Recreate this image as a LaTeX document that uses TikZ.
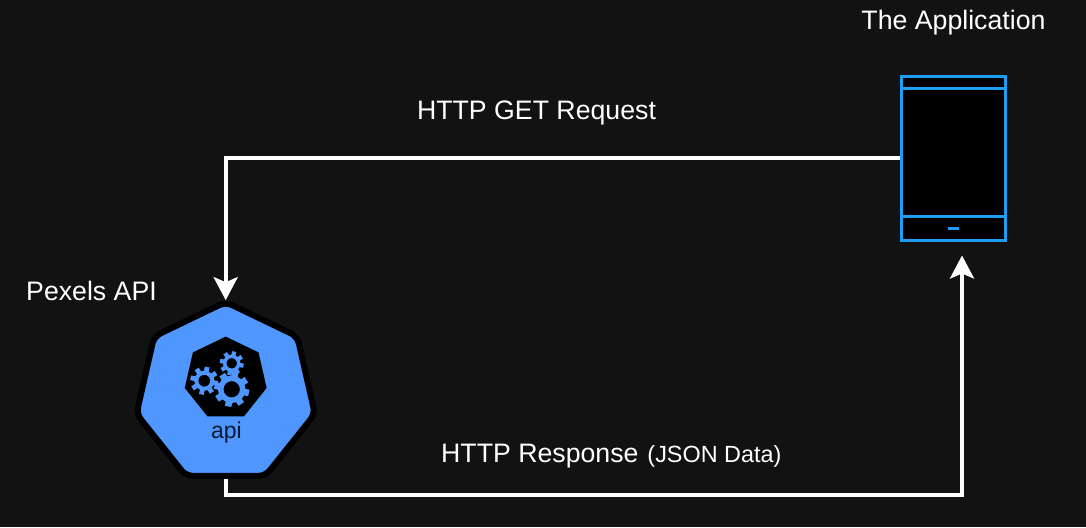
\documentclass[tikz,border=0pt]{standalone}
\usepackage{fontspec}
\setmainfont{Liberation Sans}
\usetikzlibrary{shapes.geometric,arrows.meta}

\definecolor{bgdark}{HTML}{121212}
\definecolor{apiblue}{HTML}{4F97FF}
\definecolor{phoneblue}{HTML}{1E9DF5}
\definecolor{apitext}{HTML}{0A1A33}

\tikzset{
	flow/.style={draw=white, line width=4pt},
	flowtip/.style={-{Stealth[length=23pt,width=24pt,inset=5pt]}, shorten >=-1.5pt},
	caption/.style={text=white, font=\fontsize{26.7}{30}\selectfont, inner sep=0pt},
	heptagon/.style={regular polygon, regular polygon sides=7, inner sep=0pt},
	phonebar/.style={draw=phoneblue, line width=3.2pt},
}

% gear: centre, ring radius, tooth tip radius
\newcommand{\apigear}[3]{
	\draw[apiblue, line width=0.5*#2pt] (#1) circle (#2);
	\foreach \toothangle in {0,45,...,315}
		\draw[apiblue, line width=0.6*#2pt] (#1) ++(\toothangle+12:#2) -- ++(\toothangle+12:#3-#2);
}

\begin{document}
\begin{tikzpicture}[x=1pt, y=-1pt]
	\fill[bgdark] (0,0) rectangle (1086,527);
	\useasboundingbox (0,0) rectangle (1086,527);

	% Pexels API
	\node[heptagon, fill=apiblue, draw=black, line width=6pt, rounded corners=7pt, minimum size=183pt] (api) at (225.7,393.5) {};
	\node[heptagon, fill=black, minimum size=84pt] (apihole) at (225.7,378.6) {};
	\apigear{231.7,389.3}{11}{17.5}
	\apigear{204.3,380.7}{8}{14}
	\apigear{231.7,363.3}{7}{12}
	\node[text=apitext, font=\fontsize{23}{26}\selectfont, inner sep=0pt] (apilabel) at (226.5,433) {api};
	\node[caption, anchor=west] (apiname) at (26,291) {Pexels API};

	% The Application
	\node[draw=phoneblue, fill=black, line width=3.2pt, minimum width=104pt, minimum height=164pt, inner sep=0pt] (phone) at (953.2,158.4) {};
	\draw[phonebar] (phone.north west) ++(0,13.5) coordinate (topbar) -- (topbar -| phone.east);
	\draw[phonebar] (phone.south west) ++(0,-25.5) coordinate (botbar) -- (botbar -| phone.east);
	\coordinate (dashleft) at (948,228.3);
	\coordinate (dashright) at (958.5,228.3);
	\draw[phonebar] (dashleft) -- (dashright);
	\node[caption] (appname) at (953.5,23) {The Application};

	% Connectors
	\coordinate (respcorner) at (962,495);
	\coordinate (resptip) at (962,257);
	\draw[flow, flowtip] (phone.west) -| (api.north);
	\draw[flow, flowtip] (api.south) |- (respcorner) -- (resptip);

	% Labels
	\node[caption] (getlabel) at (536.5,113) {HTTP GET Request};
	\node[caption, anchor=base west] (resplabel) at (441,462) {HTTP Response \fontsize{23.4}{26}\selectfont\hspace{1.5pt}(JSON Data)};
\end{tikzpicture}
\end{document}
